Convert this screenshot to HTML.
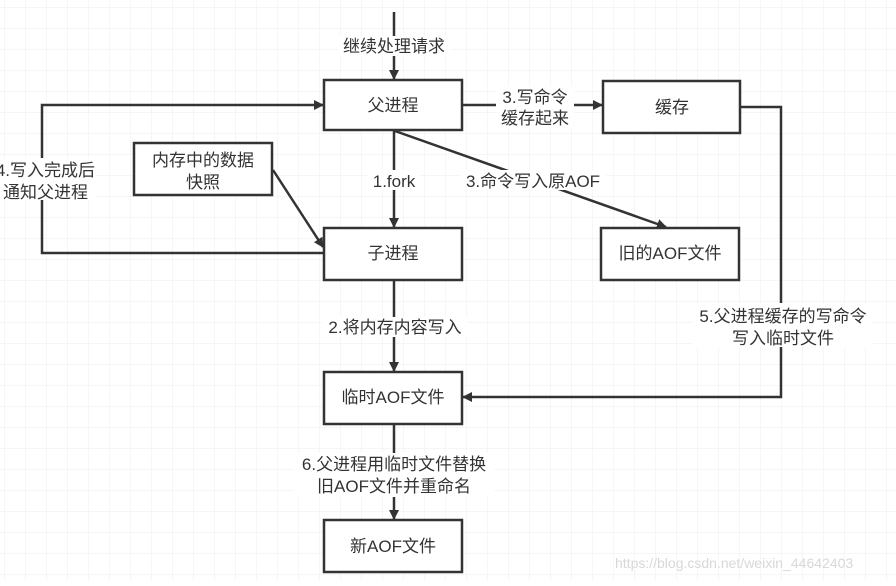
<!DOCTYPE html>
<html><head><meta charset="utf-8"><style>
body{margin:0;background:#fff;}
svg text{font-family:"Liberation Sans","Noto Sans CJK SC",sans-serif;font-size:17px;fill:#333;}
</style></head><body>
<svg width="896" height="581" viewBox="0 0 896 581" xmlns="http://www.w3.org/2000/svg">
<defs>
<pattern id="g" width="21" height="21" patternUnits="userSpaceOnUse" x="5" y="8">
<path d="M21 0V21M0 21H21" fill="none" stroke="#eeeeee" stroke-width="1"/>
</pattern>
<marker id="a" markerWidth="10" markerHeight="10" refX="9" refY="5" orient="auto" markerUnits="userSpaceOnUse">
<path d="M0 0L10 5L0 10z" fill="#333"/>
</marker>
</defs>
<rect width="896" height="581" fill="url(#g)"/>
<g stroke="#333" stroke-width="2.5" fill="none">
<line x1="394" y1="12" x2="394" y2="79" marker-end="url(#a)"/>
<polyline points="324,253 42,253 42,105 323,105" marker-end="url(#a)"/>
<line x1="394" y1="131" x2="394" y2="227" marker-end="url(#a)"/>
<line x1="395" y1="131" x2="666" y2="227" marker-end="url(#a)"/>
<line x1="273" y1="170" x2="323" y2="247" marker-end="url(#a)"/>
<line x1="462" y1="105" x2="602" y2="105" marker-end="url(#a)"/>
<polyline points="740,107 781,107 781,397 463,397" marker-end="url(#a)"/>
<line x1="394" y1="280" x2="394" y2="371" marker-end="url(#a)"/>
<line x1="394" y1="424" x2="394" y2="519" marker-end="url(#a)"/>
</g>
<g stroke="#333" stroke-width="2.5" fill="#fff">
<rect x="324" y="80" width="138" height="50"/>
<rect x="603" y="81" width="137" height="52"/>
<rect x="134" y="143" width="138" height="52"/>
<rect x="324" y="228" width="138" height="52"/>
<rect x="601" y="228" width="138" height="52"/>
<rect x="324" y="372" width="138" height="52"/>
<rect x="324" y="520" width="138" height="52"/>
</g>
<g fill="#fff">
<rect x="338" y="36" width="112" height="20"/>
<rect x="0" y="158" width="96" height="42"/>
<rect x="368" y="170" width="52" height="20"/>
<rect x="460" y="170" width="146" height="20"/>
<rect x="496" y="86" width="78" height="42"/>
<rect x="693" y="303" width="180" height="44"/>
<rect x="322" y="317" width="146" height="20"/>
<rect x="294" y="453" width="200" height="44"/>
</g>
<g text-anchor="middle">
<text x="394" y="52">继续处理请求</text>
<text x="393" y="111">父进程</text>
<text x="672" y="113">缓存</text>
<text x="203" y="166">内存中的数据</text>
<text x="203" y="188">快照</text>
<text x="393" y="259">子进程</text>
<text x="670" y="259">旧的AOF文件</text>
<text x="393" y="403">临时AOF文件</text>
<text x="393" y="552">新AOF文件</text>
<text x="394" y="187">1.fork</text>
<text x="533" y="187">3.命令写入原AOF</text>
<text x="535" y="103">3.写命令</text>
<text x="535" y="124">缓存起来</text>
<text x="783" y="322">5.父进程缓存的写命令</text>
<text x="783" y="344">写入临时文件</text>
<text x="395" y="333">2.将内存内容写入</text>
<text x="394" y="470">6.父进程用临时文件替换</text>
<text x="394" y="492">旧AOF文件并重命名</text>
</g>
<g text-anchor="end">
<text x="95" y="176">4.写入完成后</text>
<text x="88" y="198">通知父进程</text>
</g>
<text x="615" y="568" style="font-size:14px;fill:#d8d8d8">https://blog.csdn.net/weixin_44642403</text>
</svg>
</body></html>
